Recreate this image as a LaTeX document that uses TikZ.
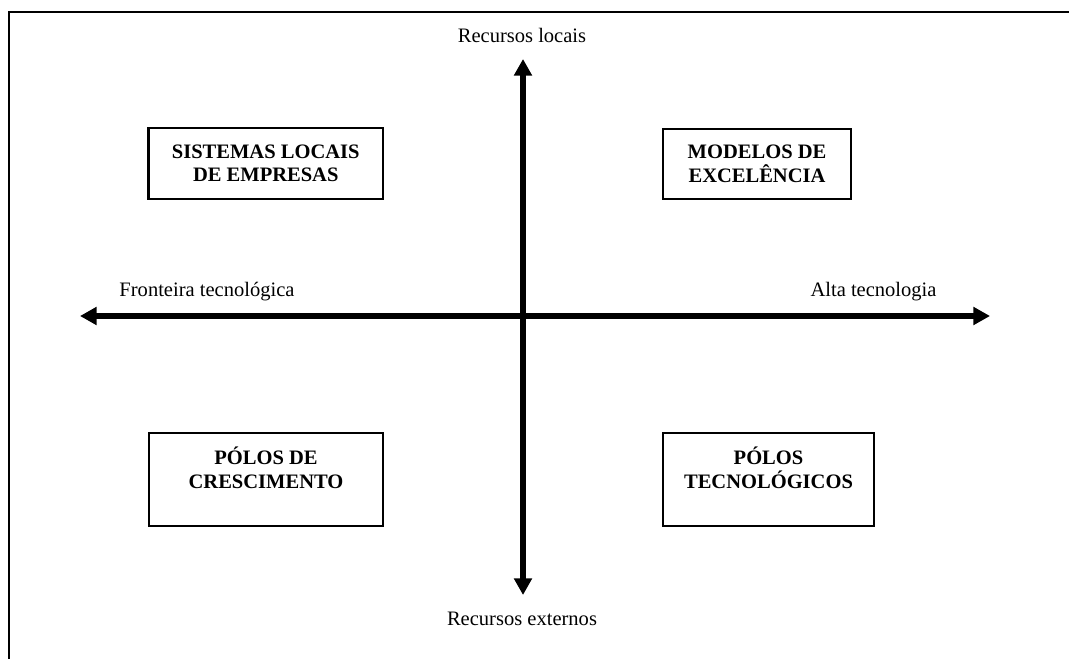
\documentclass[tikz,border=0pt]{standalone}
\usepackage{fontspec}
\setmainfont{Liberation Serif}
\usepackage{tikz}
\usetikzlibrary{arrows.meta,positioning}
\tikzset{every node/.append style={font=\fontsize{15.4pt}{17.6pt}\selectfont}}
\tikzset{quadbox/.style={draw, line width=1.6pt, inner sep=0pt, align=center,
    font=\fontsize{15.4pt}{17.6pt}\selectfont\bfseries}}
\tikzset{axisline/.style={line width=3.8pt,
    {Triangle[length=12.5pt,width=13pt]}-{Triangle[length=12.5pt,width=13pt]}}}

\begin{document}
\begin{tikzpicture}[x=0.75pt,y=-0.75pt]
\useasboundingbox (0,0) rectangle (1069,659);
\draw[line width=1.4pt] (9,12) rectangle (1085,675);
\coordinate (west) at (80,316);
\coordinate (east) at (990,316);
\coordinate (north) at (523,59);
\coordinate (south) at (523,595);
\draw[axisline] (west) -- (east);
\draw[axisline] (south) -- (north);
\node (locais) at (522,35) {Recursos locais};
\node (externos) at (522,619) {Recursos externos};
\node (fronteira) at (207,292) {Fronteira tecnológica};
\node (alta) at (873.5,292) {Alta tecnologia};
\node[quadbox, minimum width=175.9pt, minimum height=53.3pt] (sistemas) at (265.75,163.5) {SISTEMAS LOCAIS\\DE EMPRESAS};
\node[quadbox, minimum width=141pt, minimum height=52.5pt] (modelos) at (757,164) {MODELOS DE\\EXCELÊNCIA};
\node[quadbox, minimum width=175.5pt, minimum height=69.75pt] (crescimento) at (266,479.5) {PÓLOS DE\\CRESCIMENTO\\\mbox{}};
\node[quadbox, minimum width=158.25pt, minimum height=69.75pt] (tecnologicos) at (768.5,479.5) {PÓLOS\\TECNOLÓGICOS\\\mbox{}};
\end{tikzpicture}
\end{document}
